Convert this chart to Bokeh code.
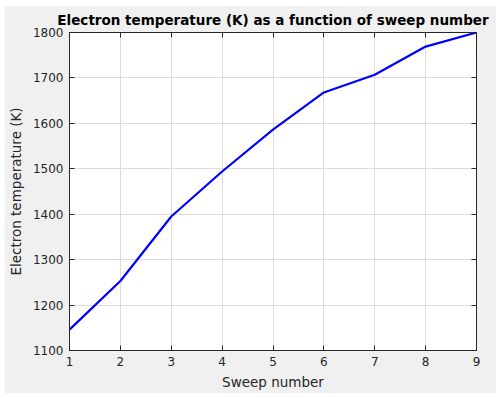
from bokeh.plotting import figure
from bokeh.models import LinearAxis, Range1d, FixedTicker, CustomLabelingPolicy
from bokeh.embed import file_html
from bokeh.resources import INLINE

sweep = [1, 2, 3, 4, 5, 6, 7, 8, 9]
temperature = [1146, 1253, 1395, 1494, 1586, 1668, 1707, 1769, 1800]
x_ticks = [1, 2, 3, 4, 5, 6, 7, 8, 9]
y_ticks = [1100, 1200, 1300, 1400, 1500, 1600, 1700, 1800]

FONT = "DejaVu Sans"
TXT = "#262626"
BG = "#f0f0f0"

p = figure(frame_width=407, frame_height=318, output_backend="svg", toolbar_location=None,
           x_range=Range1d(1, 9), y_range=Range1d(1100, 1800),
           title="Electron temperature (K) as a function of sweep number",
           x_axis_label="Sweep number", y_axis_label="Electron temperature (K)",
           min_border_left=64, min_border_right=20, min_border_top=27, min_border_bottom=43)
p.margin = (5, 5, 5, 4)

p.background_fill_color = "white"
p.border_fill_color = BG
p.outline_line_color = TXT
p.outline_line_width = 1

p.title.text_font = FONT
p.title.text_font_size = "13.5px"
p.title.text_font_style = "bold"
p.title.text_color = "black"
p.title.align = "center"
p.title.offset = 0
p.title.standoff = 2

for ax in (p.xaxis[0], p.yaxis[0]):
    ax.axis_label_text_font = FONT
    ax.axis_label_text_font_size = "13.5px"
    ax.axis_label_text_font_style = "normal"
    ax.axis_label_text_color = TXT
    ax.major_label_text_font = FONT
    ax.major_label_text_font_size = "12px"
    ax.major_label_text_color = TXT
    ax.major_tick_in = 5
    ax.major_tick_out = 0
    ax.minor_tick_in = 0
    ax.minor_tick_out = 0
    ax.axis_line_color = TXT
    ax.major_tick_line_color = TXT

p.xaxis[0].ticker = FixedTicker(ticks=x_ticks)
p.yaxis[0].ticker = FixedTicker(ticks=y_ticks)
p.xaxis[0].axis_label_standoff = 5
p.yaxis[0].axis_label_standoff = 6
p.xaxis[0].major_label_standoff = 6
p.yaxis[0].major_label_standoff = 6

no_labels = CustomLabelingPolicy(code="return new Set()")
for loc, ticks in (("right", y_ticks), ("above", x_ticks)):
    a = LinearAxis(ticker=FixedTicker(ticks=ticks), major_label_policy=no_labels,
                   major_label_text_font_size="1px",
                   major_tick_in=5, major_tick_out=0, minor_tick_in=0, minor_tick_out=0,
                   axis_line_color=TXT, major_tick_line_color=TXT, major_label_standoff=0)
    p.add_layout(a, loc)

p.xgrid.ticker = FixedTicker(ticks=x_ticks)
p.ygrid.ticker = FixedTicker(ticks=y_ticks)
p.grid.grid_line_color = "#dcdcdc"
p.grid.grid_line_width = 1

p.line(sweep, temperature, line_color="#0000ff", line_width=2.2)

open("out.html", "w").write(file_html(p, INLINE))
